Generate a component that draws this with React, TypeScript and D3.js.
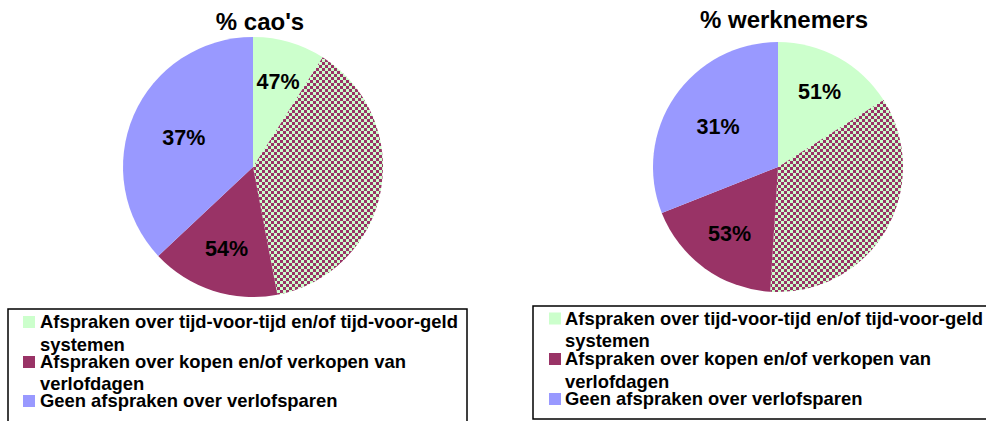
import React from "react";
import * as d3 from "d3";

// Data: share of CAOs / employees per category (slices overlap; checkered = both)
const charts = ["% cao's", "% werknemers"];
const tijdVoorTijd = [47, 51];
const kopenVerkopen = [54, 53];
const geenAfspraken = [37, 31];

const legendLabels = [
  ["Afspraken over tijd-voor-tijd en/of tijd-voor-geld", "systemen"],
  ["Afspraken over kopen en/of verkopen van", "verlofdagen"],
  ["Geen afspraken over verlofsparen"],
];

const GREEN = "#CCFFCC";
const MAROON = "#993366";
const LAVENDER = "#9999FF";
const FONT = "'Liberation Sans', Arial, sans-serif";

type Layout = {
  cx: number; cy: number; r: number; titleX: number; titleY: number;
  box: { x: number; y: number; w: number; h: number };
  swX: number; textX: number; baselines: number[][];
};

const layouts: Layout[] = [
  {
    cx: 253, cy: 167, r: 130, titleX: 260, titleY: 30,
    box: { x: 8, y: 309, w: 459, h: 130 },
    swX: 23, textX: 40,
    baselines: [[328, 350.5], [368, 390], [407]],
  },
  {
    cx: 778, cy: 167, r: 125, titleX: 784, titleY: 28,
    box: { x: 533, y: 306, w: 470, h: 113 },
    swX: 549, textX: 565,
    baselines: [[324.5, 347], [365, 388], [405]],
  },
];

function PieChart({ idx }: { idx: number }) {
  const L = layouts[idx];
  const t = tijdVoorTijd[idx];
  const k = kopenVerkopen[idx];
  const g = geenAfspraken[idx];
  const both = t + k + g - 100;
  const slices = [
    { key: "tijd", value: t - both, fill: GREEN, label: `${t}%`, lf: 0.69 },
    { key: "both", value: both, fill: "url(#checker)", label: "", lf: 0.6 },
    { key: "kopen", value: k - both, fill: MAROON, label: `${k}%`, lf: 0.66 },
    { key: "geen", value: g, fill: LAVENDER, label: `${g}%`, lf: 0.58 },
  ];
  const pie = d3.pie<any>().value((d) => d.value).sort(null);
  const arcs = pie(slices);
  const arc = d3.arc<any>().innerRadius(0).outerRadius(L.r);
  return (
    <g>
      <text x={L.titleX} y={L.titleY} textAnchor="middle" fontFamily={FONT}
        fontWeight="bold" fontSize={24} fill="#000">{charts[idx]}</text>
      <g transform={`translate(${L.cx},${L.cy})`}>
        {arcs.map((a) => (
          <path key={a.data.key} d={arc(a) || ""} fill={a.data.fill} />
        ))}
        {arcs.map((a) => {
          if (!a.data.label) return null;
          const m = (a.startAngle + a.endAngle) / 2;
          const rr = L.r * a.data.lf;
          return (
            <text key={a.data.key + "l"} x={Math.sin(m) * rr} y={-Math.cos(m) * rr}
              dy="0.36em" textAnchor="middle" fontFamily={FONT} fontWeight="bold"
              fontSize={21.5} fill="#000">{a.data.label}</text>
          );
        })}
      </g>
      <rect x={L.box.x} y={L.box.y} width={L.box.w} height={L.box.h}
        fill="#fff" stroke="#000" strokeWidth={1.5} />
      {legendLabels.map((lines, i) => (
        <g key={i}>
          <rect x={L.swX} y={L.baselines[i][0] - 12} width={12} height={12}
            fill={[GREEN, MAROON, LAVENDER][i]} />
          {lines.map((ln, j) => (
            <text key={j} x={L.textX} y={L.baselines[i][j]} fontFamily={FONT}
              fontWeight="bold" fontSize={18.4} fill="#000">{ln}</text>
          ))}
        </g>
      ))}
    </g>
  );
}

export default function App() {
  return (
    <svg width={986} height={421}
      style={{ position: "absolute", left: 0, top: 0, display: "block", background: "#fff" }}>
      <defs>
        <pattern id="checker" width={6} height={6} patternUnits="userSpaceOnUse">
          <rect x={0} y={0} width={6} height={6} fill={GREEN} />
          <rect x={0} y={0} width={3} height={3} fill={MAROON} />
          <rect x={3} y={3} width={3} height={3} fill={MAROON} />
        </pattern>
      </defs>
      <PieChart idx={0} />
      <PieChart idx={1} />
    </svg>
  );
}
